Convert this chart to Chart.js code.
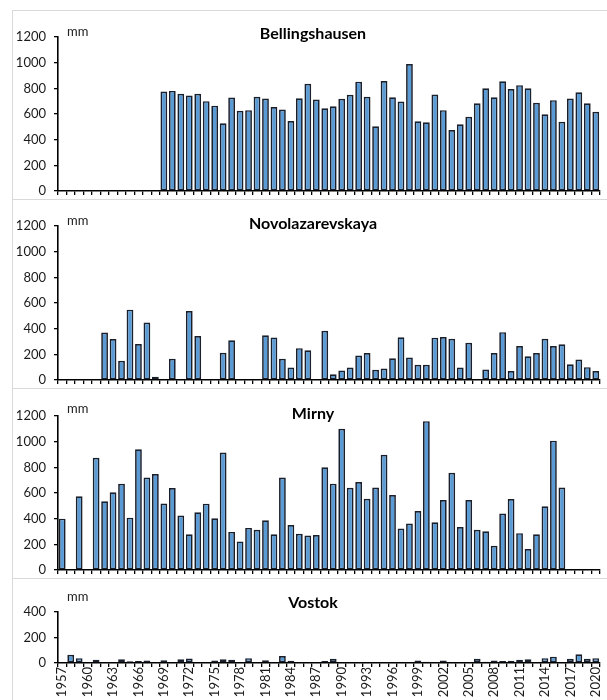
<!DOCTYPE html>
<html>
<head>
<meta charset="utf-8">
<script src="https://cdn.jsdelivr.net/npm/chart.js@4.4.1/dist/chart.umd.min.js"></script>
<style>
  html, body { margin: 0; padding: 0; background: #fff; overflow: hidden; }
  body { width: 607px; height: 700px; position: relative; }
  .panel { position: absolute; left: 12px; width: 640px; border: 1px solid #d9d9d9; box-sizing: border-box; background: #fff; }
  .panel canvas { position: absolute; left: 0; top: 0; }
</style>
</head>
<body>
<div class="panel" style="top:10px;height:190px"><canvas id="c1" width="594" height="188"></canvas></div>
<div class="panel" style="top:199px;height:190px"><canvas id="c2" width="594" height="188"></canvas></div>
<div class="panel" style="top:388px;height:191px"><canvas id="c3" width="594" height="189"></canvas></div>
<div class="panel" style="top:578px;height:140px"><canvas id="c4" width="594" height="121"></canvas></div>
<script>
// Annual precipitation (mm) at Russian Antarctic stations, 1957-2020
const years = [1957,1958,1959,1960,1961,1962,1963,1964,1965,1966,1967,1968,1969,1970,1971,1972,
  1973,1974,1975,1976,1977,1978,1979,1980,1981,1982,1983,1984,1985,1986,1987,1988,
  1989,1990,1991,1992,1993,1994,1995,1996,1997,1998,1999,2000,2001,2002,2003,2004,
  2005,2006,2007,2008,2009,2010,2011,2012,2013,2014,2015,2016,2017,2018,2019,2020];

const bellingshausen = [null,null,null,null,null,null,null,null,null,null,null,null,
  775,780,757,745,757,700,665,527,728,625,630,735,720,655,635,545,722,835,713,645,
  660,718,750,852,735,505,857,730,697,990,543,535,752,630,475,520,578,683,800,730,
  855,795,825,800,688,598,708,540,720,770,683,618];

const novolazarevskaya = [null,null,null,null,null,370,320,150,548,280,448,25,null,165,null,538,
  342,null,null,212,310,null,null,null,348,332,165,98,248,232,null,383,
  45,75,97,190,210,80,90,170,333,175,118,118,330,335,322,98,
  290,null,82,210,373,70,265,185,210,322,265,278,122,160,100,70];

const mirny = [400,null,575,null,875,535,605,672,408,940,720,748,518,638,425,278,
  450,517,403,915,297,223,328,313,388,278,720,350,282,268,272,800,
  673,1100,640,685,555,643,898,585,323,362,460,1160,372,545,758,335,
  545,313,302,188,440,553,287,163,278,497,1008,643,null,null,null,null];

const vostok = [null,65,38,5,25,null,null,30,13,15,20,7,22,8,30,35,
  5,8,20,30,25,5,38,8,22,7,55,18,8,3,8,15,
  33,8,5,3,null,null,3,null,null,3,20,10,8,20,null,null,
  5,33,10,20,15,18,25,30,null,38,50,null,33,68,33,38];

const yTicks = [0, 200, 400, 600, 800, 1000, 1200];
const labelEvery = 3;

const FONT = 'Lato, "Liberation Sans", sans-serif';

// Station name and unit label drawn over the top of each plot
const panelText = {
  id: 'panelText',
  afterDraw(chart, args, opts) {
    const { ctx, chartArea } = chart;
    ctx.save();
    ctx.fillStyle = '#000';
    ctx.font = 'bold 16px ' + FONT;
    ctx.textAlign = 'center';
    ctx.textBaseline = 'middle';
    ctx.fillText(opts.title, 300, chartArea.top + opts.titleDy);
    ctx.font = '13px ' + FONT;
    ctx.textAlign = 'left';
    ctx.textBaseline = 'alphabetic';
    ctx.fillStyle = '#222';
    ctx.fillText('mm', chartArea.left + 9, chartArea.top + opts.unitDy);
    ctx.restore();
  }
};

function makePanel(id, name, values, opt) {
  const yMax = opt.yMax;
  new Chart(document.getElementById(id), {
    type: 'bar',
    data: {
      labels: years,
      datasets: [{
        label: name,
        data: values,
        backgroundColor: '#5b9bd5',
        borderColor: '#1a1f2c',
        borderWidth: 1.7,
        borderSkipped: false,
        barPercentage: 0.8,
        categoryPercentage: 1.0
      }]
    },
    options: {
      responsive: false,
      animation: false,
      events: [],
      layout: { autoPadding: false, padding: { top: opt.top, right: 7, left: 0, bottom: 0 } },
      plugins: {
        legend: { display: false },
        tooltip: { enabled: false },
        title: { display: false },
        panelText: { title: name, titleDy: opt.titleDy, unitDy: opt.unitDy }
      },
      scales: {
        x: {
          type: 'category',
          offset: true,
          afterFit(scale) {
            scale.height = opt.xHeight;
            scale.paddingLeft = 0; scale.paddingRight = 0;
          },
          border: { display: true, color: '#000', width: 1.6 },
          grid: { display: true, drawOnChartArea: false, drawTicks: true, tickLength: 4, offset: true, color: '#000', lineWidth: 1.3 },
          ticks: {
            display: opt.showYears,
            autoSkip: false,
            minRotation: 90,
            maxRotation: 90,
            padding: 0,
            color: '#1a1a1a',
            font: { family: FONT, size: 13 },
            callback(val, idx) {
              return (years[idx] - years[0]) % labelEvery === 0 ? String(years[idx]) : '';
            }
          }
        },
        y: {
          min: 0,
          max: yMax,
          afterFit(scale) {
            scale.width = 45;
            scale.paddingTop = 0; scale.paddingBottom = 0;
          },
          afterBuildTicks(scale) {
            scale.ticks = yTicks.filter(v => v <= yMax).map(v => ({ value: v }));
          },
          border: { display: true, color: '#000', width: 1.6 },
          grid: { display: true, drawOnChartArea: false, drawTicks: true, tickLength: 4, color: '#000', lineWidth: 1.3 },
          ticks: {
            padding: 8,
            color: '#1a1a1a',
            font: { family: FONT, size: 13 },
            callback(v) { return String(v); }
          }
        }
      }
    },
    plugins: [panelText]
  });
}

makePanel('c1', 'Bellingshausen', bellingshausen, { yMax: 1200, top: 26, xHeight: 8, titleDy: -3, unitDy: -1, showYears: false });
makePanel('c2', 'Novolazarevskaya', novolazarevskaya, { yMax: 1200, top: 26, xHeight: 8, titleDy: -2, unitDy: -1, showYears: false });
makePanel('c3', 'Mirny', mirny, { yMax: 1200, top: 27, xHeight: 8, titleDy: -2, unitDy: -3, showYears: false });
makePanel('c4', 'Vostok', vostok, { yMax: 400, top: 33, xHeight: 37, titleDy: -9, unitDy: -11, showYears: true });
</script>
</body>
</html>
